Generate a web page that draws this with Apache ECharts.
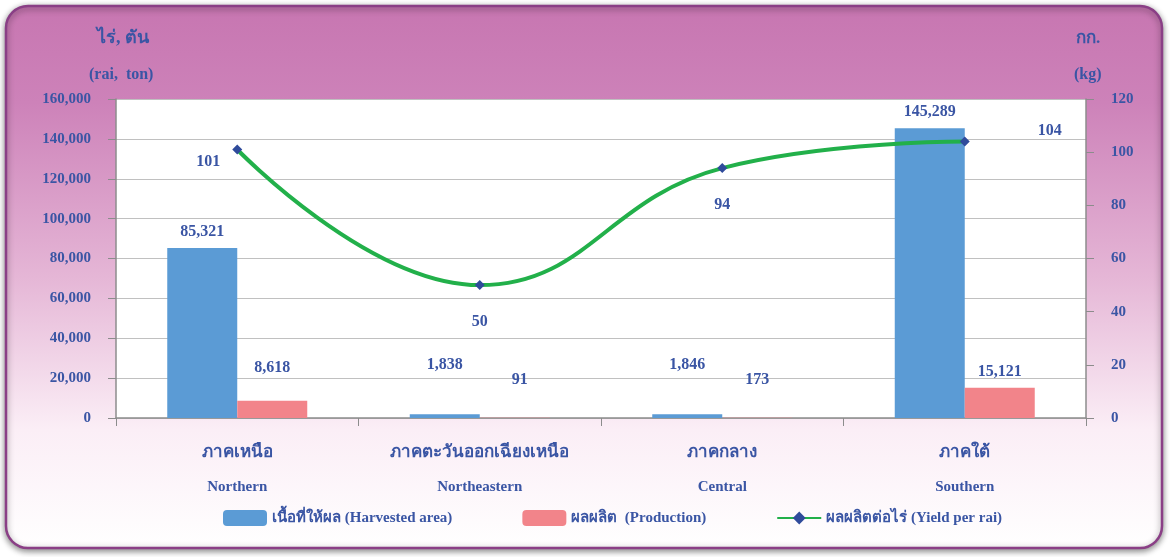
<!DOCTYPE html>
<html><head><meta charset="utf-8">
<script src="https://cdn.jsdelivr.net/npm/echarts@6/dist/echarts.min.js"></script>
<style>html,body{margin:0;padding:0;background:#fff}#c{width:1170px;height:557px}</style>
</head><body><div id="c"></div>
<script>
const categoriesTh = ['ภาคเหนือ', 'ภาคตะวันออกเฉียงเหนือ', 'ภาคกลาง', 'ภาคใต้'];
const categoriesEn = ['Northern', 'Northeastern', 'Central', 'Southern'];
const harvestedArea = [85321, 1838, 1846, 145289];
const production = [8618, 91, 173, 15121];
const yieldPerRai = [101, 50, 94, 104];
const seriesNames = ['เนื้อที่ให้ผล (Harvested area)', 'ผลผลิต  (Production)', 'ผลผลิตต่อไร่ (Yield per rai)'];

const FONT = '"Liberation Serif", "DejaVu Serif", serif';
const TXT = '#3a55a4';
const chart = echarts.init(document.getElementById('c'), null, {renderer: 'canvas'});
const cats = categoriesTh.map((t, i) => '{th|' + t + '}\n{en|' + categoriesEn[i] + '}');
// label placement styles (not data)
const areaLabelOffsets = [[0, 0], [0, -33], [0, -33], [0, 0]];
const prodLabelOffsets = [[0, -17], [5, -22], [0, -22], [0, 0]];
const yieldLabelPos = [
  {position: 'left', distance: 12, offset: [0, 12]},
  {position: 'bottom', distance: 24},
  {position: 'bottom', distance: 24},
  {position: 'right', distance: 68, offset: [0, -11]}
];
chart.setOption({
  animation: false,
  backgroundColor: '#ffffff',
  graphic: [
    {type: 'rect', z: -10, shape: {x: 6, y: 6, width: 1156, height: 542, r: 22},
     style: {fill: new echarts.graphic.LinearGradient(0, 0, 0, 1, [
        {offset: 0, color: '#c776b1'}, {offset: 0.18, color: '#cd82b9'},
        {offset: 0.5, color: '#e5b6d6'}, {offset: 0.78, color: '#fbeef6'}, {offset: 1, color: '#ffffff'}]),
       stroke: '#8a3f86', lineWidth: 2.5, shadowBlur: 6, shadowColor: 'rgba(0,0,0,0.45)', shadowOffsetY: 2}},
    {type: 'text', left: 97, top: 29, style: {text: 'ไร่, ตัน', font: 'bold 18px ' + FONT, fill: TXT}},
    {type: 'text', left: 89, top: 67, style: {text: '(rai,  ton)', font: 'bold 16px ' + FONT, fill: TXT}},
    {type: 'text', left: 1076, top: 30, style: {text: 'กก.', font: 'bold 17px ' + FONT, fill: TXT}},
    {type: 'text', left: 1074, top: 67, style: {text: '(kg)', font: 'bold 16px ' + FONT, fill: TXT}}
  ],
  grid: {left: 116, right: 84, top: 99, bottom: 139, show: true, backgroundColor: '#ffffff', borderWidth: 0},
  legend: {
    left: 218, top: 505, itemWidth: 44, itemHeight: 16, itemGap: 70,
    textStyle: {fontFamily: FONT, fontWeight: 'bold', fontSize: 15, color: TXT},
    data: seriesNames
  },
  xAxis: {
    type: 'category', data: cats,
    axisLine: {lineStyle: {color: '#8c8c8c', width: 1.5}},
    axisTick: {show: true, length: 8, lineStyle: {color: '#8c8c8c'}},
    axisLabel: {margin: 17, color: TXT,
      rich: {
        th: {fontFamily: FONT, fontWeight: 'bold', fontSize: 17, color: TXT, lineHeight: 35},
        en: {fontFamily: FONT, fontWeight: 'bold', fontSize: 15, color: TXT, lineHeight: 35}
      }}
  },
  yAxis: [
    {type: 'value', min: 0, max: 160000, interval: 20000,
     axisLine: {show: true, lineStyle: {color: '#8c8c8c', width: 1.5}},
     axisTick: {show: true, length: 8, lineStyle: {color: '#8c8c8c'}},
     splitLine: {lineStyle: {color: '#c0c0c0', width: 1.2}},
     axisLabel: {margin: 25, fontFamily: FONT, fontWeight: 'bold', fontSize: 15, color: TXT,
       formatter: v => v.toLocaleString('en-US')}},
    {type: 'value', min: 0, max: 120, interval: 20, position: 'right',
     axisLine: {show: true, lineStyle: {color: '#8c8c8c', width: 1.5}},
     axisTick: {show: true, length: 8, lineStyle: {color: '#8c8c8c'}},
     splitLine: {show: false},
     axisLabel: {margin: 25, fontFamily: FONT, fontWeight: 'bold', fontSize: 15, color: TXT}}
  ],
  series: [
    {name: seriesNames[0], type: 'bar', barWidth: 70, barGap: '0%',
     data: harvestedArea.map((v, i) => ({value: v, label: {offset: areaLabelOffsets[i]}})),
     itemStyle: {color: '#5b9bd5'},
     label: {show: true, position: 'top', distance: 8, fontFamily: FONT, fontWeight: 'bold', fontSize: 16, color: TXT,
       formatter: p => p.value.toLocaleString('en-US')}},
    {name: seriesNames[1], type: 'bar', barWidth: 70,
     data: production.map((v, i) => ({value: v, label: {offset: prodLabelOffsets[i]}})),
     itemStyle: {color: '#f2848a'},
     label: {show: true, position: 'top', distance: 8, fontFamily: FONT, fontWeight: 'bold', fontSize: 16, color: TXT,
       formatter: p => p.value.toLocaleString('en-US')}},
    {name: seriesNames[2], type: 'line', yAxisIndex: 1, smooth: 0.45,
     data: yieldPerRai.map((v, i) => ({value: v, label: yieldLabelPos[i]})),
     symbol: 'diamond', symbolSize: 10,
     lineStyle: {color: '#22b04a', width: 4},
     itemStyle: {color: '#2f4b9b'},
     label: {show: true, fontFamily: FONT, fontWeight: 'bold', fontSize: 16, color: TXT}}
  ]
});
</script></body></html>
